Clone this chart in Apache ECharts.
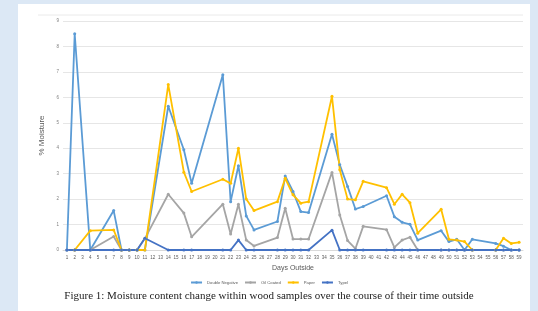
<!DOCTYPE html>
<html>
<head>
<meta charset="utf-8">
<script src="https://cdn.jsdelivr.net/npm/echarts@6/dist/echarts.min.js"></script>
<style>
html,body{margin:0;padding:0;background:#DCE8F5;}
#c{width:538px;height:311px;}
</style>
</head>
<body>
<div id="c"></div>
<script>
// Days 1..59 (categories)
const days = [];
for (let d = 1; d <= 59; d++) days.push(String(d));

const yTicks = [0,1,2,3,4,5,6,7,8,9];

// Measured values keyed by day (blank days connected across)
const doubleNegative = {1:0,2:8.5,4:0,7:1.55,8:0,9:0,10:0,11:0,14:5.65,16:3.94,17:2.62,21:6.89,22:1.9,23:3.31,24:1.34,25:0.79,28:1.12,29:2.91,30:2.3,31:1.51,32:1.47,35:4.55,36:3.35,37:2.5,38:1.61,39:1.71,42:2.13,43:1.31,44:1.09,45:1.01,46:0.39,49:0.76,50:0.33,51:0.42,52:0,53:0.42,56:0.26,57:0.15,58:0,59:0};
const oilCoated = {1:0,2:0,4:0,7:0.53,8:0,9:0,10:0,11:0.45,14:2.19,16:1.45,17:0.52,21:1.8,22:0.63,23:1.8,24:0.39,25:0.16,28:0.49,29:1.64,30:0.43,31:0.43,32:0.43,35:3.05,36:1.38,37:0.37,38:0.05,39:0.93,42:0.8,43:0.1,44:0.39,45:0.5,46:0,49:0,50:0,51:0,52:0,53:0,56:0,57:0,58:0,59:0};
const paper = {2:0,4:0.76,7:0.79,8:0,9:0,10:0,11:0,14:6.5,16:3.06,17:2.3,21:2.78,22:2.62,23:4.0,24:2.0,25:1.55,28:1.9,29:2.82,30:2.17,31:1.84,32:1.9,35:6.04,36:3.15,37:2.0,38:1.97,39:2.7,42:2.45,43:1.8,44:2.19,45:1.86,46:0.66,49:1.6,50:0.42,51:0.39,52:0.33,53:0,56:0,57:0.46,58:0.26,59:0.3};
const typel = {1:0,2:0,4:0,7:0,8:0,9:0,10:0,11:0.46,14:0,16:0,17:0,21:0,22:0,23:0.39,24:0,25:0,28:0,29:0,30:0,31:0,32:0,35:0.78,36:0,37:0,38:0,39:0,42:0,43:0,44:0,45:0,46:0,49:0,50:0,51:0,52:0,53:0,56:0,57:0,58:0,59:0};

const seriesNames = ['Double Negative','Oil Coated','Paper','Typel'];
const seriesColors = ['#5B9BD5','#A5A5A5','#FFC000','#4472C4'];
const seriesData = [doubleNegative, oilCoated, paper, typel];

function toArr(obj){ return days.map(d => (obj[d] === undefined ? null : obj[d])); }

const chart = echarts.init(document.getElementById('c'), null, {renderer:'canvas'});
chart.setOption({
  backgroundColor: '#DCE8F5',
  animation: false,
  graphic: [
    {type:'rect', shape:{x:18,y:4,width:512,height:307}, style:{fill:'#ffffff'}, z:-10},
    {type:'line', shape:{x1:38,y1:15,x2:523,y2:15}, style:{stroke:'#EAEAEA', lineWidth:1}, z:-5},
    {type:'text', left:'center', top:291, style:{text:'Figure 1: Moisture content change within wood samples over the course of their time outside', font:'11px "Liberation Serif"', fill:'#222'}}
  ],
  grid: {left:63, right:15, top:21, bottom:61},
  legend: {
    data: seriesNames,
    bottom: 21,
    left: 'center',
    itemWidth: 11,
    itemHeight: 3,
    itemGap: 6,
    textStyle: {fontSize:4.2, color:'#595959', fontFamily:'Liberation Sans', lineHeight:5}
  },
  xAxis: {
    type:'category',
    data: days,
    boundaryGap: true,
    name: 'Days Outside',
    nameLocation: 'middle',
    nameGap: 15,
    nameTextStyle: {fontSize:7, color:'#595959', fontFamily:'Liberation Sans'},
    axisLine: {lineStyle:{color:'#D9D9D9'}},
    axisTick: {show:false},
    axisLabel: {interval:0, fontSize:4.5, color:'#595959', margin:5, fontFamily:'Liberation Sans'}
  },
  yAxis: {
    type:'value',
    min: yTicks[0],
    max: yTicks[yTicks.length-1],
    interval: 1,
    name: '% Moisture',
    nameLocation: 'middle',
    nameRotate: 90,
    nameGap: 5,
    nameTextStyle: {fontSize:8, color:'#595959', fontFamily:'Liberation Sans'},
    axisLine: {show:false},
    axisTick: {show:false},
    axisLabel: {fontSize:4.5, color:'#7F7F7F', margin:4, fontFamily:'Liberation Sans'},
    splitLine: {lineStyle:{color:'#E6E6E6', width:1}}
  },
  series: seriesNames.map((n,i) => ({
    name: n,
    type: 'line',
    data: toArr(seriesData[i]),
    connectNulls: true,
    symbol: 'circle',
    symbolSize: 3,
    showSymbol: true,
    color: seriesColors[i],
    lineStyle: {width:1.8, color: seriesColors[i]},
    itemStyle: {color: seriesColors[i]}
  }))
});
</script>
</body>
</html>
